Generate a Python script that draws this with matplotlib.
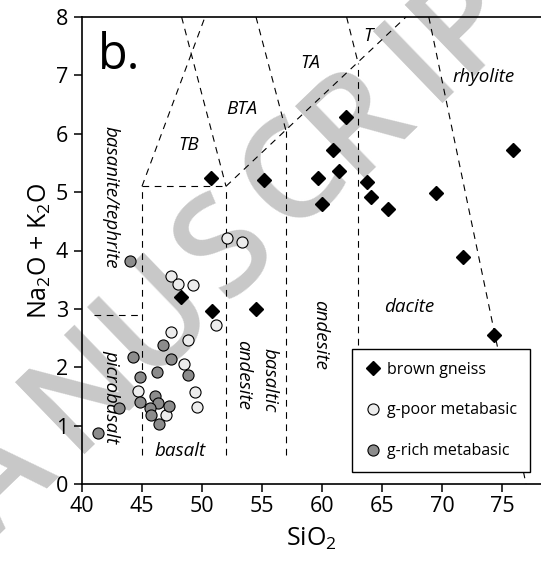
import matplotlib
matplotlib.use("Agg")
import matplotlib.pyplot as plt

plt.rcParams["font.family"] = ["Open Sans", "DejaVu Sans"]
plt.rcParams["mathtext.default"] = "regular"

# brown gneiss (diamonds)
gneiss_si = [50.73, 55.17, 59.65, 60.02, 60.91, 61.40, 62.03, 63.75, 64.07,
             65.50, 69.49, 71.73, 74.37, 75.94, 48.29, 50.87, 54.54]
gneiss_alk = [5.24, 5.20, 5.25, 4.80, 5.73, 5.36, 6.29, 5.17, 4.92,
              4.71, 4.98, 3.89, 2.55, 5.73, 3.21, 2.97, 2.99]

# garnet-poor metabasic (light circles)
gpoor_si = [52.05, 53.31, 47.43, 47.97, 49.21, 51.16, 47.40, 48.81, 48.52,
            44.65, 49.44, 49.58, 47.03]
gpoor_alk = [4.21, 4.15, 3.56, 3.42, 3.41, 2.73, 2.61, 2.47, 2.05,
             1.60, 1.57, 1.32, 1.19]

# garnet-rich metabasic (dark circles)
grich_si = [44.03, 46.75, 44.22, 47.44, 46.25, 48.83, 44.86, 44.86, 43.06,
            46.06, 46.33, 45.69, 47.22, 45.75, 46.44, 41.33]
grich_alk = [3.82, 2.38, 2.18, 2.14, 1.92, 1.87, 1.83, 1.41, 1.30,
             1.51, 1.38, 1.30, 1.34, 1.18, 1.02, 0.88]

# TAS field boundaries as seen in the figure
boundaries = [
    [(41, 2.9), (45, 2.9)],
    [(45, 0.5), (45, 5.1)],
    [(45, 5.1), (52, 5.1)],
    [(52, 0.5), (52, 5.1)],
    [(45, 5.1), (50.25, 8)],
    [(48.3, 8), (52, 5.1)],
    [(52, 5.1), (67.0, 8)],
    [(54.5, 8), (57, 6.05)],
    [(57, 0.5), (57, 6.05)],
    [(62.05, 8), (63, 7.22)],
    [(63, 0.5), (63, 7.22)],
    [(68.9, 8), (77, 0)],
]

# field names: (text, x, y, rotation)
fields = [
    ("TB", 48.9, 5.8, 0),
    ("BTA", 53.35, 6.43, 0),
    ("TA", 59.0, 7.22, 0),
    ("T", 63.85, 7.67, 0),
    ("rhyolite", 73.5, 6.97, 0),
    ("dacite", 67.3, 3.04, 0),
    ("andesite", 59.85, 2.55, -90),
    ("basaltic", 55.6, 1.77, -90),
    ("andesite", 53.45, 1.86, -90),
    ("basanite/tephrite", 42.35, 4.91, -90),
    ("picrobasalt", 42.41, 1.49, -90),
    ("basalt", 48.15, 0.57, 0),
]

# watermark letters and their centres (figure pixels from top-left)
wm_letters = ["A", "N", "U", "S", "C", "R", "I", "P"]
wm_centres = [(2, 482), (86, 390), (157, 318), (228, 250),
              (296, 178), (359, 121), (420, 62), (466, 20)]

fig = plt.figure(figsize=(5.41, 5.69), dpi=100)
ax = fig.add_axes([82 / 541, 85 / 569, 459 / 541, 467 / 569])
ax.set_facecolor("none")

for ch, (px, py) in zip(wm_letters, wm_centres):
    fig.text(px / 541, 1 - py / 569, ch, rotation=44, fontsize=100,
             fontweight="semibold", color="#c8c8c8", ha="center",
             va="center", zorder=-1, family="Open Sans")

for seg in boundaries:
    xs, ys = zip(*seg)
    ax.plot(xs, ys, color="black", lw=0.8, dashes=(6, 5), zorder=1)

for name, x, y, rot in fields:
    ax.text(x, y, name, rotation=rot, fontsize=13.5, style="italic",
            ha="center", va="center", zorder=2)

ax.text(0.035, 0.915, "b.", transform=ax.transAxes, fontsize=35,
        ha="left", va="center")

ax.plot(gneiss_si, gneiss_alk, "D", ms=7.6, mfc="black", mec="black",
        ls="none", label="brown gneiss", zorder=4)
ax.plot(gpoor_si, gpoor_alk, "o", ms=8, mfc="#ececec", mec="black",
        mew=0.8, ls="none", label="g-poor metabasic", zorder=3)
ax.plot(grich_si, grich_alk, "o", ms=8, mfc="#8c8c8c", mec="black",
        mew=0.8, ls="none", label="g-rich metabasic", zorder=3)

ax.set_xlim(40, 78.25)
ax.set_ylim(0, 8)
ax.set_xticks(range(40, 80, 5))
ax.set_yticks(range(0, 9))
ax.spines["right"].set_visible(False)
for s in ["left", "bottom", "top"]:
    ax.spines[s].set_linewidth(1.2)
ax.tick_params(direction="out", length=6, width=1.1, labelsize=15.5)
ax.tick_params(axis="y", pad=4)
ax.tick_params(axis="x", pad=3)

ax.set_xlabel("SiO$_2$", fontsize=18, labelpad=6)
ax.set_ylabel("Na$_2$O + K$_2$O", fontsize=18, labelpad=2)

leg = ax.legend(loc="lower left", bbox_to_anchor=(0.588, 0.0257),
                borderaxespad=0, fontsize=11.5, frameon=True, fancybox=False,
                edgecolor="black", framealpha=1, handlelength=1.0,
                handletextpad=0.4, labelspacing=1.55, borderpad=0.8)
leg.get_frame().set_linewidth(1.0)
leg.set_zorder(5)

fig.savefig("out.png", dpi=100)
